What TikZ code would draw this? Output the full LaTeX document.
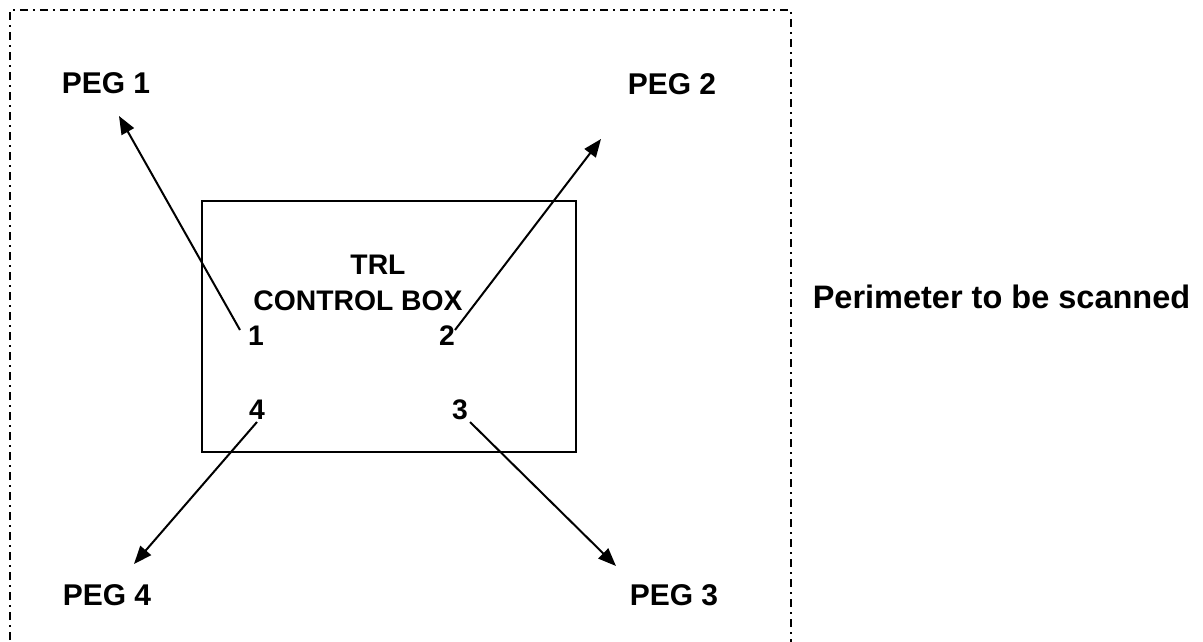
\documentclass[tikz,border=0pt]{standalone}
\usepackage{fontspec}
\setmainfont{Liberation Sans}
\usetikzlibrary{arrows.meta}
\begin{document}
\begin{tikzpicture}[x=1pt,y=-1pt,
  peglbl/.style={font=\bfseries\fontsize{30}{36}\selectfont, inner sep=0pt},
  inlbl/.style={font=\bfseries\fontsize{28.3}{33}\selectfont, inner sep=0pt},
  scanlbl/.style={font=\bfseries\fontsize{32.5}{38}\selectfont, inner sep=0pt},
  conn/.style={line width=2pt, -{Triangle[length=18pt,width=14pt]}},
  perim/.style={line width=2pt, dash pattern=on 8pt off 5pt on 2pt off 5pt},
  boxst/.style={draw, line width=2pt}]
\useasboundingbox (0,0) rectangle (1203,642);
% perimeter (open at the bottom)
\coordinate (pbl) at (10,660);
\coordinate (ptl) at (10,10);
\coordinate (ptr) at (791,10);
\coordinate (pbr) at (791,660);
\draw[perim] (pbl) -- (ptl) -- (ptr) -- (pbr);
% control box
\node[boxst, minimum width=374pt, minimum height=251pt] (box) at (389,326.5) {};
\node[inlbl] (trl) at (378,265) {TRL};
\node[inlbl] (cbox) at (358,301) {CONTROL BOX};
\node[inlbl] (n1) at (256,336) {1};
\node[inlbl] (n2) at (447,336) {2};
\node[inlbl] (n4) at (257,410) {4};
\node[inlbl] (n3) at (460,410) {3};
% pegs
\node[peglbl] (peg1) at (106,83) {PEG 1};
\node[peglbl] (peg2) at (672,84) {PEG 2};
\node[peglbl] (peg4) at (107,595) {PEG 4};
\node[peglbl] (peg3) at (674,595) {PEG 3};
\node[scanlbl] (scan) at (1001.5,297) {Perimeter to be scanned};
% arrow ends
\coordinate (s1) at (240,330); \coordinate (t1) at (119,116);
\coordinate (s2) at (455,330); \coordinate (t2) at (601,139);
\coordinate (s4) at (257,422); \coordinate (t4) at (134,564);
\coordinate (s3) at (470,422); \coordinate (t3) at (616,566);
\draw[conn] (s1) -- (t1);
\draw[conn] (s2) -- (t2);
\draw[conn] (s4) -- (t4);
\draw[conn] (s3) -- (t3);
\end{tikzpicture}
\end{document}
